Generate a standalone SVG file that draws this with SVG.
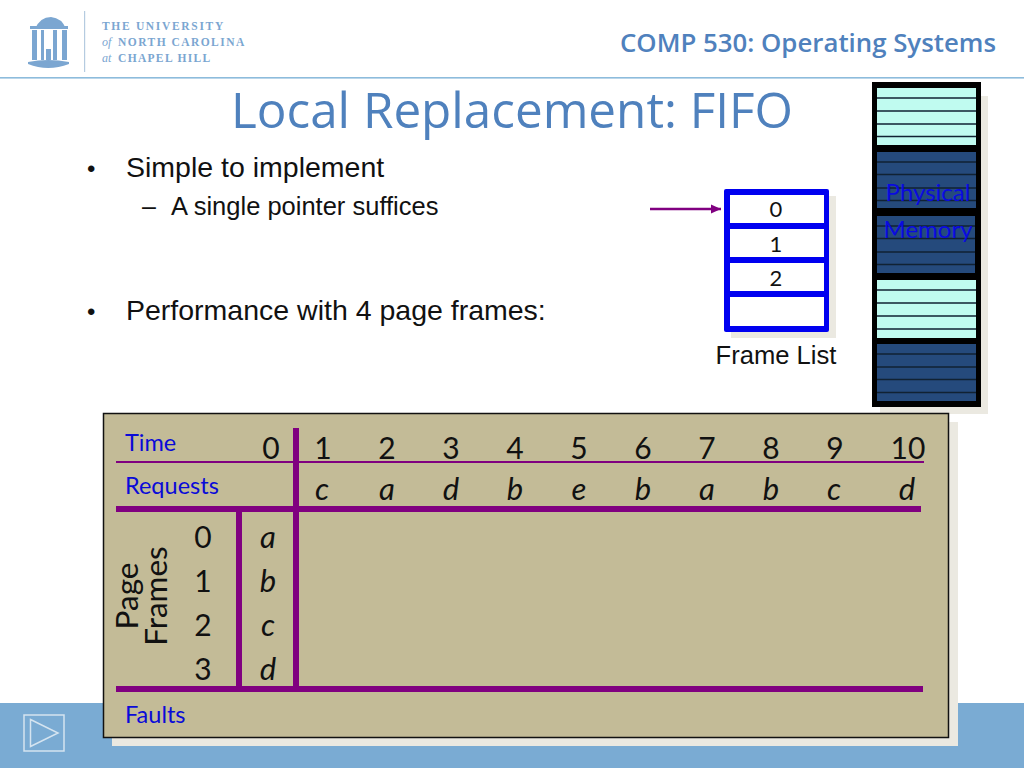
<svg xmlns="http://www.w3.org/2000/svg" width="1024" height="768" viewBox="0 0 1024 768">
<style>
.cal{font-family:"Open Sans",Lato,sans-serif}
.ar{font-family:"Liberation Sans",Arial,sans-serif;fill:#111}
.num{font-family:Lato,"Open Sans",sans-serif;font-size:30px;fill:#111;text-anchor:middle}
.it{font-family:Lato,"Open Sans",sans-serif;font-size:31px;font-style:italic;fill:#111;text-anchor:middle}
.lab{font-family:Lato,"Open Sans",sans-serif;font-size:23.5px;fill:#0a0ad8}
.fl{font-family:Lato,"Open Sans",sans-serif;font-size:22px;fill:#111;text-anchor:middle}
.lg{font-family:"Liberation Serif",serif;font-weight:bold;font-size:11.5px;letter-spacing:1.8px;fill:#7ba6d1}
.lgi{font-family:"Liberation Serif",serif;font-style:italic;font-size:12px;fill:#7ba6d1}
.lc{fill:#c0fbf0}.dk{fill:#254a7c}
.sl{stroke:#123;stroke-width:1.6}
.pu{stroke:#800080;fill:none}
</style>
<defs>
<marker id="ah" markerUnits="userSpaceOnUse" markerWidth="11" markerHeight="11" refX="10" refY="5" orient="auto"><path d="M0 0.500L10 5L0 9.500z" fill="#800080"/></marker>
</defs>
<rect width="1024" height="768" fill="#fff"/>
<g id="header">
<rect x="0" y="703" width="1024" height="65" fill="#7aabd3"/>
<rect x="0" y="77" width="1024" height="1.6" fill="#8dbcdc"/>
<g id="logo" fill="#7ba6d1">
<path d="M35 29Q40 17 51 17Q62 18 66 29z"/>
<rect x="30" y="26" width="38" height="3"/>
<rect x="32" y="30" width="5" height="30"/>
<rect x="41" y="30" width="3" height="30"/>
<rect x="53" y="30" width="4" height="30"/>
<rect x="62" y="30" width="5" height="30"/>
<rect x="46" y="49" width="5" height="11"/>
<path d="M28 62Q48 58 69 62L69 64Q48 72 28 64z"/>
<rect x="84" y="11" width="1.2" height="61" fill="#b5cbe0"/>
<text class="lg" x="102" y="30" textLength="123">THE UNIVERSITY</text>
<text class="lgi" x="102" y="46">of</text><text class="lg" x="118" y="46" textLength="128">NORTH CAROLINA</text>
<text class="lgi" x="102" y="62">at</text><text class="lg" x="118" y="62" textLength="94">CHAPEL HILL</text>
</g>
<text class="cal" x="620" y="52" font-size="25" font-weight="600" fill="#4f81bd" textLength="376" lengthAdjust="spacingAndGlyphs">COMP 530: Operating Systems</text>
<text class="cal" x="231" y="128" font-size="50" fill="#4f81bd" textLength="562" lengthAdjust="spacingAndGlyphs">Local Replacement: FIFO</text>
</g>
<g id="bullets">
<text class="ar" x="87" y="177" font-size="24">•</text>
<text class="ar" x="126" y="177" font-size="28.500">Simple to implement</text>
<text class="ar" x="142" y="215" font-size="25">–</text>
<text class="ar" x="171" y="215" font-size="25.500">A single pointer suffices</text>
<text class="ar" x="87" y="320" font-size="24">•</text>
<text class="ar" x="126" y="320" font-size="28.500">Performance with 4 page frames:</text>
</g>
<g id="frame-list">
<rect x="731" y="196" width="105" height="142" fill="#ebe9e1"/>
<rect x="724" y="189" width="105" height="143" rx="2" fill="#0000f0"/>
<rect x="730" y="195" width="94" height="28" fill="#fff"/>
<rect x="730" y="229" width="94" height="28" fill="#fff"/>
<rect x="730" y="263" width="94" height="28" fill="#fff"/>
<rect x="730" y="297" width="94" height="29" fill="#fff"/>
<text class="fl" x="776" y="217">0</text>
<text class="fl" x="776" y="252">1</text>
<text class="fl" x="776" y="286">2</text>
<text class="ar" x="776" y="364" font-size="25.600" text-anchor="middle">Frame List</text>
</g>
<g id="connectors">
<line x1="650" y1="209" x2="721" y2="209" stroke="#800080" stroke-width="2.500" marker-end="url(#ah)"/>
</g>
<g id="physical-memory">
<rect x="880" y="96" width="108" height="318" fill="#ebe9e1"/>
<rect x="872" y="82" width="109" height="325" fill="#000"/>
<rect class="lc" x="877" y="88" width="99" height="57"/>
<rect class="dk" x="877" y="152" width="99" height="56"/>
<rect class="dk" x="877" y="216" width="98" height="57"/>
<rect class="lc" x="877" y="280" width="99" height="58"/>
<rect class="dk" x="877" y="344" width="99" height="57"/>
<path class="sl" d="M877 98H976M877 111H976M877 124H976M877 136.500H976M877 162H976M877 174.500H976M877 188H976M877 200.500H976M877 226H975M877 238.500H975M877 252H975M877 264.500H975M877 290H976M877 303H976M877 316H976M877 329H976M877 354H976M877 367H976M877 379.500H976M877 392.500H976"/>
<text x="928" y="201" font-family="Lato,sans-serif" font-size="24" fill="#0a0ae0" text-anchor="middle">Physical</text>
<text x="928" y="238" font-family="Lato,sans-serif" font-size="24" fill="#0a0ae0" text-anchor="middle">Memory</text>
</g>
<g id="table">
<rect x="112" y="422" width="846" height="324" fill="#ebe9e1"/>
<rect x="103.500" y="413.500" width="845" height="324" fill="#c3bb97" stroke="#111" stroke-width="1.500"/>
<line class="pu" x1="116" y1="462" x2="924" y2="462" stroke-width="1.800"/>
<line class="pu" x1="116" y1="509" x2="921" y2="509" stroke-width="6"/>
<line class="pu" x1="116" y1="689" x2="923" y2="689" stroke-width="6"/>
<line class="pu" x1="296" y1="428" x2="296" y2="692" stroke-width="6"/>
<line class="pu" x1="239" y1="509" x2="239" y2="692" stroke-width="6"/>
<text class="lab" x="125" y="451">Time</text>
<text class="lab" x="125" y="494">Requests</text>
<text class="lab" x="125" y="723">Faults</text>
<text class="num" x="271" y="459">0</text>
<text class="num" x="323" y="459">1</text>
<text class="num" x="387" y="459">2</text>
<text class="num" x="451" y="459">3</text>
<text class="num" x="515" y="459">4</text>
<text class="num" x="579" y="459">5</text>
<text class="num" x="643" y="459">6</text>
<text class="num" x="707" y="459">7</text>
<text class="num" x="771" y="459">8</text>
<text class="num" x="835" y="459">9</text>
<text class="num" x="908" y="459">10</text>
<text class="it" x="322" y="500">c</text>
<text class="it" x="387" y="500">a</text>
<text class="it" x="451" y="500">d</text>
<text class="it" x="515" y="500">b</text>
<text class="it" x="579" y="500">e</text>
<text class="it" x="643" y="500">b</text>
<text class="it" x="707" y="500">a</text>
<text class="it" x="771" y="500">b</text>
<text class="it" x="834" y="500">c</text>
<text class="it" x="907" y="500">d</text>
<text class="num" x="203" y="548">0</text>
<text class="num" x="203" y="592">1</text>
<text class="num" x="203" y="636">2</text>
<text class="num" x="203" y="680">3</text>
<text class="it" x="268" y="548">a</text>
<text class="it" x="268" y="592">b</text>
<text class="it" x="268" y="636">c</text>
<text class="it" x="268" y="680">d</text>
<text class="num" style="font-size:31.500px" transform="translate(138 596) rotate(-90)">Page</text>
<text class="num" style="font-size:31.500px" transform="translate(167 596) rotate(-90)">Frames</text>
</g>
<g id="nav-icon" fill="none" stroke="#d5e4f0" stroke-width="1.500">
<rect x="24" y="715" width="40" height="36"/>
<path d="M30.500 719.500L58 733L30.500 746.500z"/>
</g>
</svg>
